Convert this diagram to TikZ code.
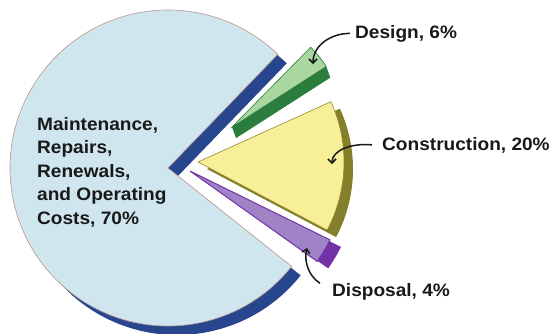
\documentclass[tikz,border=0pt]{standalone}
\usepackage{fontspec}
\setmainfont{Liberation Sans}[FakeStretch=1.06]
\usetikzlibrary{arrows.meta,calc}
\definecolor{lblue}{RGB}{207,230,238}
\definecolor{dblue}{RGB}{40,70,142}
\definecolor{pieedge}{RGB}{185,150,140}
\definecolor{yel}{RGB}{248,240,152}
\definecolor{olive}{RGB}{132,127,42}
\definecolor{yedge}{RGB}{150,135,50}
\definecolor{lgreen}{RGB}{170,215,160}
\definecolor{dgreen}{RGB}{42,125,60}
\definecolor{lpurple}{RGB}{160,131,198}
\definecolor{dpurple}{RGB}{115,50,165}
\definecolor{txt}{RGB}{25,25,25}
\begin{document}
\begin{tikzpicture}[x=1pt,y=-1pt,
  lbl/.style={font=\fontsize{18}{23.5}\selectfont\bfseries, inner sep=0pt, text=txt},
  callout/.style={line width=1.5pt, draw=txt, -{Straight Barb[length=4pt,width=8pt]}},
  face/.style={line width=0.6pt}
]
\useasboundingbox (0,0) rectangle (554,333);
% ---- main pie (maintenance) ----
\fill[dblue, shift={(9,9)}] (168,168) -- +(38.5:158)
  arc[start angle=38.5, end angle=314, radius=158] -- cycle;
\filldraw[face, fill=lblue, draw=pieedge] (168,168) -- +(38.5:158)
  arc[start angle=38.5, end angle=314, radius=158] -- cycle;
% ---- construction (yellow) ----
\fill[olive, shift={(9,7)}] (198,162) -- +(-24.4:146)
  arc[start angle=-24.4, end angle=27.8, radius=146] -- cycle;
\filldraw[face, fill=yel, draw=yedge] (198,162) -- +(-24.4:146)
  arc[start angle=-24.4, end angle=27.8, radius=146] -- cycle;
% ---- design (green) ----
\fill[dgreen] (232,127) -- (236,138) -- ($(236,138)+(-32.7:112)$) -- ($(232,127)+(-32.7:112)$) -- cycle;
\fill[dgreen, shift={(4,11)}] (232,127) -- +(-45.4:112)
  arc[start angle=-45.4, end angle=-32.7, radius=112] -- cycle;
\filldraw[face, fill=lgreen, draw=dgreen] (232,127) -- +(-45.4:112)
  arc[start angle=-45.4, end angle=-32.7, radius=112] -- cycle;
% ---- disposal (purple) ----
\fill[dpurple, shift={(11,7)}] (190,171) -- +(26.2:156)
  arc[start angle=26.2, end angle=35.4, radius=156] -- cycle;
\filldraw[line width=1pt, fill=lpurple, draw=dpurple] (190,171) -- +(26.2:156)
  arc[start angle=26.2, end angle=35.4, radius=156] -- cycle;
% ---- labels ----
\node[lbl, anchor=base west, align=left] (lM) at (37,224)
  {Maintenance,\\Repairs,\\Renewals,\\and Operating\\Costs, 70\%};
\node[lbl, anchor=base west] (lD) at (355,38) {Design, 6\%};
\node[lbl, anchor=base west] (lC) at (382,150) {Construction, 20\%};
\node[lbl, anchor=base west] (lP) at (332,296) {Disposal, 4\%};
% ---- callout targets ----
\coordinate (tD) at (313,64);
\coordinate (tC) at (332,164);
\coordinate (tP) at (307,248);
\draw[callout] ([xshift=-5pt]lD.west) .. controls +(-20,0) and +(0,-18) .. (tD);
\draw[callout] ([xshift=-10pt]lC.west) .. controls +(-20,-2) and +(0,-14) .. (tC);
\draw[callout] ([shift={(-12,-8)}]lP.west) .. controls +(-12,-8) and +(-3,13) .. (tP);
\end{tikzpicture}
\end{document}
